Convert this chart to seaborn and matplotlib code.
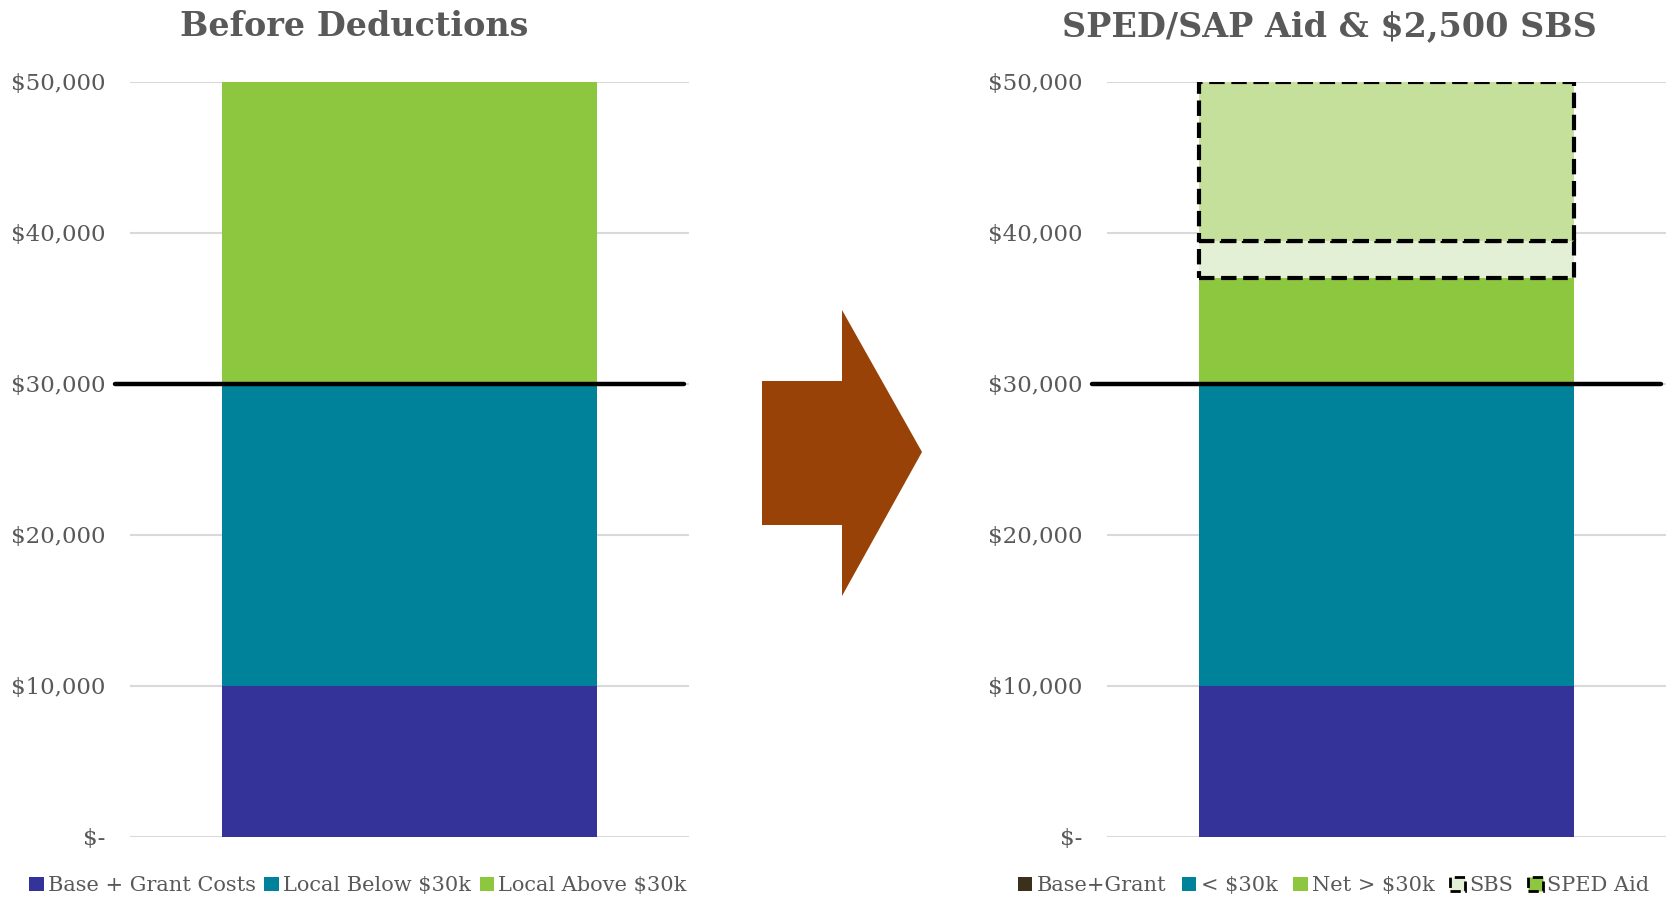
import seaborn as sns
import matplotlib.pyplot as plt
from matplotlib.patches import Patch, Polygon
from matplotlib.ticker import FuncFormatter

# data
before_labels = ['Base + Grant Costs', 'Local Below $30k', 'Local Above $30k']
before_values = [10000, 20000, 20000]
before_colors = ['#333399', '#00829B', '#8DC63F']

after_labels = ['Base+Grant', '< $30k', 'Net > $30k', 'SBS', 'SPED Aid']
after_values = [10000, 20000, 7000, 2500, 10500]
after_colors = ['#333399', '#00829B', '#8DC63F', '#E4F0D5', '#C4E09B']
after_dashed = [False, False, False, True, True]
legend_colors_after = ['#3A301C', '#00829B', '#8DC63F', '#E4F0D5', '#8DC63F']

threshold = 30000
y_ticks = [0, 10000, 20000, 30000, 40000, 50000]
titles = ['Before Deductions', 'SPED/SAP Aid & $2,500 SBS']

sns.set_style('white')
plt.rcParams['font.family'] = ['DejaVu Serif']
grey = '#595959'


def money(v, pos):
    if v == 0:
        return '$-'
    return '${:,.0f}'.format(v)


def stacked(ax, values, colors, dashed):
    bottom = 0
    for v, c, d in zip(values, colors, dashed):
        if d:
            sns.barplot(x=[''], y=[v], bottom=bottom, color=c, width=0.67,
                        edgecolor='black', linestyle='--', linewidth=3,
                        saturation=1, ax=ax, zorder=3)
        else:
            sns.barplot(x=[''], y=[v], bottom=bottom, color=c, width=0.67,
                        linewidth=0, saturation=1, ax=ax, zorder=2)
        bottom += v
    ax.set_xlim(-0.5, 0.5)
    ax.set_ylim(0, 50000)
    ax.set_yticks(y_ticks)
    ax.yaxis.set_major_formatter(FuncFormatter(money))
    ax.tick_params(axis='y', length=0, pad=18, labelsize=16.5, labelcolor=grey)
    ax.set_xticks([])
    ax.grid(axis='y', color='#D9D9D9', linewidth=1.5, zorder=0)
    ax.set_axisbelow(True)
    sns.despine(ax=ax, left=True, bottom=True)
    ax.plot([-0.527, 0.49], [threshold, threshold], color='black', lw=3.2,
            clip_on=False, zorder=5)


fig = plt.figure(figsize=(16.69, 9.02), dpi=100)
axL = fig.add_axes([0.0779, 0.0721, 0.335, 0.837])
axR = fig.add_axes([0.6633, 0.0721, 0.335, 0.837])

stacked(axL, before_values, before_colors, [False] * 3)
stacked(axR, after_values, after_colors, after_dashed)

fig.text(0.2125, 0.971, titles[0], ha='center', va='center', fontsize=24,
         fontweight='bold', color=grey)
fig.text(0.7965, 0.971, titles[1], ha='center', va='center', fontsize=24,
         fontweight='bold', color=grey)

# arrow between the panels
pts = [(762, 381), (842, 381), (842, 310), (922, 452), (842, 596), (842, 525), (762, 525)]
arrow = Polygon([(x / 1669, 1 - y / 902) for x, y in pts], closed=True,
                facecolor='#984207', edgecolor='none', transform=fig.transFigure)
fig.patches.append(arrow)

# legends
hL = [Patch(facecolor=c, edgecolor='none') for c in before_colors]
fig.legend(hL, before_labels, loc='center', bbox_to_anchor=(0.2145, 0.018), ncol=3,
           frameon=False, fontsize=15, labelcolor=grey, handlelength=0.7,
           handleheight=0.7, handletextpad=0.2, columnspacing=0.4)

hR = []
for c, d in zip(legend_colors_after, after_dashed):
    if d:
        hR.append(Patch(facecolor=c, edgecolor='black', linestyle='--', linewidth=2))
    else:
        hR.append(Patch(facecolor=c, edgecolor='none'))
fig.legend(hR, after_labels, loc='center', bbox_to_anchor=(0.799, 0.018), ncol=5,
           frameon=False, fontsize=15, labelcolor=grey, handlelength=0.7,
           handleheight=0.7, handletextpad=0.2, columnspacing=0.75)

fig.savefig('out.png', dpi=100)
